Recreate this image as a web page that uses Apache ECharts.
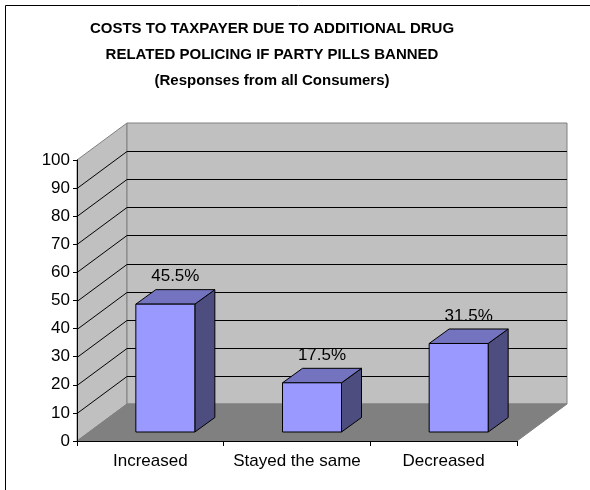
<!DOCTYPE html>
<html>
<head>
<meta charset="utf-8">
<script src="https://cdn.jsdelivr.net/npm/echarts@6/dist/echarts.min.js"></script>
<style>
html,body{margin:0;padding:0;background:#fff;}
#main{width:590px;height:490px;}
</style>
</head>
<body>
<div id="main"></div>
<script>
// data
var categories = ['Increased', 'Stayed the same', 'Decreased'];
var values = [45.5, 17.5, 31.5];
var yTicks = [10, 20, 30, 40, 50, 60, 70, 80, 90];

// 3d look (pixels)
var DX = 50, DY = -37;      // depth of the box
var FX = 15, FY = -9;       // bar front face pushed back
var BX = 20, BY = -14.5;    // bar depth
var BAR_W = 59;

var chart = echarts.init(document.getElementById('main'));

function frameItem(params, api) {
	var r = params.coordSys;
	var x = r.x, y = r.y, w = r.width, h = r.height;
	var kids = [];
	// side wall
	kids.push({type: 'polygon', shape: {points: [[x, y + h], [x, y], [x + DX, y + DY], [x + DX, y + h + DY]]},
		style: {fill: '#c0c0c0', stroke: '#808080', lineWidth: 1}});
	// back wall
	kids.push({type: 'rect', shape: {x: x + DX, y: y + DY, width: w, height: h},
		style: {fill: '#c0c0c0', stroke: '#808080', lineWidth: 1}});
	// floor
	kids.push({type: 'polygon', shape: {points: [[x, y + h], [x + w, y + h], [x + w + DX, y + h + DY], [x + DX, y + h + DY]]},
		style: {fill: '#808080', stroke: '#808080', lineWidth: 1}});
	for (var i = 0; i < yTicks.length; i++) {
		var py = Math.round(api.coord([0, yTicks[i]])[1]) + 0.5;
		kids.push({type: 'line', shape: {x1: x, y1: py, x2: x + DX, y2: py + DY}, style: {stroke: '#000', lineWidth: 1}});
		kids.push({type: 'line', shape: {x1: x + DX, y1: py + DY, x2: x + DX + w, y2: py + DY}, style: {stroke: '#000', lineWidth: 1}});
	}
	return {type: 'group', children: kids};
}

function barItem(params, api) {
	var i = api.value(0);
	var v = api.value(1);
	var base = api.coord([i, 0]);
	var top = api.coord([i, v]);
	var cx = base[0] + FX;
	var x0 = cx - BAR_W / 2, x1 = cx + BAR_W / 2;
	var yb = base[1] + FY, yt = top[1] + FY;
	var st = {stroke: '#000', lineWidth: 1};
	return {
		type: 'group',
		children: [
			{type: 'polygon', shape: {points: [[x1, yt], [x1, yb], [x1 + BX, yb + BY], [x1 + BX, yt + BY]]},
				style: Object.assign({fill: '#4d4d80'}, st)},
			{type: 'polygon', shape: {points: [[x0, yt], [x1, yt], [x1 + BX, yt + BY], [x0 + BX, yt + BY]]},
				style: Object.assign({fill: '#7373bf'}, st)},
			{type: 'rect', shape: {x: x0, y: yt, width: BAR_W, height: yb - yt},
				style: Object.assign({fill: '#9999ff'}, st)},
			{type: 'text', x: cx + BX / 2, y: yt + BY - 13,
				style: {text: v + '%', fill: '#000', fontSize: 17, fontFamily: 'Liberation Sans, Arial',
					align: 'center', verticalAlign: 'middle'}}
		]
	};
}

var barData = [];
for (var k = 0; k < values.length; k++) barData.push([k, values[k]]);

var option = {
	animation: false,
	title: {
		text: 'COSTS TO TAXPAYER DUE TO ADDITIONAL DRUG\nRELATED POLICING IF PARTY PILLS BANNED\n(Responses from all Consumers)',
		left: 272,
		top: 16,
		textAlign: 'center',
		padding: 0,
		textStyle: {fontSize: 15, fontWeight: 'bold', color: '#000', fontFamily: 'Liberation Sans, Arial', lineHeight: 26}
	},
	grid: {left: 77, right: 73, top: 160, bottom: 49},
	xAxis: {
		type: 'category',
		data: categories,
		axisLine: {show: true, lineStyle: {color: '#000', width: 1}},
		axisTick: {show: true, length: 5, lineStyle: {color: '#000'}},
		axisLabel: {fontSize: 17, color: '#000', fontFamily: 'Liberation Sans, Arial', margin: 12, interval: 0},
		z: 10
	},
	yAxis: {
		type: 'value',
		min: 0, max: 100, interval: 10,
		axisLine: {show: true, lineStyle: {color: '#000', width: 1}},
		axisTick: {show: true, length: 4, lineStyle: {color: '#000'}},
		axisLabel: {fontSize: 17, color: '#000', fontFamily: 'Liberation Sans, Arial', margin: 7},
		splitLine: {show: false},
		z: 10
	},
	graphic: [{
		type: 'rect', z: 100,
		shape: {x: 5.5, y: 5.5, width: 700, height: 700},
		style: {fill: 'none', stroke: '#000', lineWidth: 1}
	}],
	series: [
		{type: 'custom', name: 'frame', data: [[0, 0]], renderItem: frameItem, z: 1, silent: true},
		{type: 'custom', name: 'bars', data: barData, renderItem: barItem, z: 2}
	]
};
chart.setOption(option);
</script>
</body>
</html>
